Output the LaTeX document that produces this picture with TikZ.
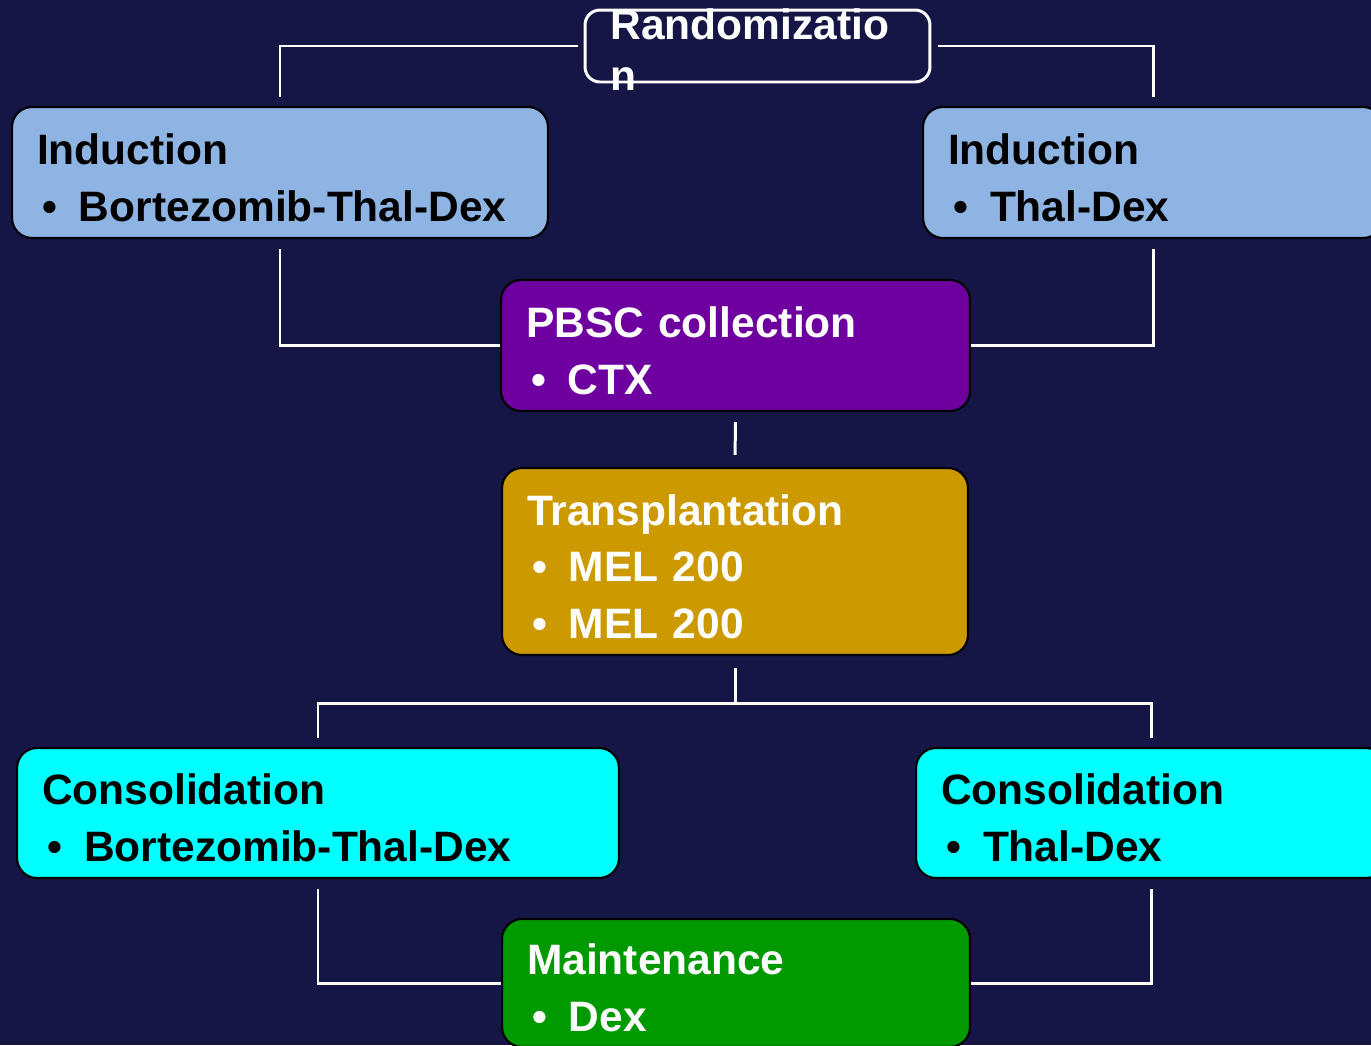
\documentclass[tikz,border=0pt]{standalone}
\usepackage{fontspec}
\setmainfont{Liberation Sans}
\usepackage{xcolor}
\usepackage{tikz}

\definecolor{navybg}{HTML}{151646}
\definecolor{indblue}{HTML}{8EB4E3}
\definecolor{pbscpurple}{HTML}{6E00A0}
\definecolor{transgold}{HTML}{CC9900}
\definecolor{conscyan}{HTML}{00FFFF}
\definecolor{maintgreen}{HTML}{009900}

\newcommand{\hd}{\rule{0pt}{0.82cm}}
\newcommand{\bul}{\makebox[0.84cm][l]{\hspace{0.1cm}\textbullet}}

\begin{document}
\begin{tikzpicture}[
    x=0.02cm, y=-0.02cm,
    stage/.style={rectangle, rounded corners=0.4cm, draw=black, line width=1.2pt, inner xsep=0.5cm, inner ysep=0pt, align=left, font=\fontsize{24.2}{32.3}\selectfont\bfseries},
    randbox/.style={rectangle, rounded corners=0.3cm, draw=white, line width=1.7pt, minimum width=6.9cm, minimum height=1.44cm, inner sep=0pt},
    randlabel/.style={text=white, inner sep=0pt, align=left, font=\fontsize{24.2}{29.5}\selectfont\bfseries},
    link/.style={draw=white, line width=1.7pt}
]

\useasboundingbox (0,0) rectangle (1371,1045);
\fill[navybg] (0,0) rectangle (1371,1045);

\node[randbox] (rand) at (757.5,46) {};
\node[randlabel, anchor=north west] (randtxt) at (610,8) {Randomizatio\\n};

\node[stage, fill=indblue, text width=9.72cm, minimum height=2.62cm] (indL) at (280,172.5) {\hd Induction\\\bul Bortezomib-Thal-Dex};
\node[stage, fill=indblue, text width=8.2cm, minimum height=2.62cm] (indR) at (1153,172.5) {\hd Induction\\\bul Thal-Dex};

\node[stage, fill=pbscpurple, text=white, text width=8.38cm, minimum height=2.62cm] (pbsc) at (735.5,345.5) {\hd PBSC collection\\\bul CTX};

\node[stage, fill=transgold, text=white, text width=8.32cm, minimum height=3.74cm] (trans) at (735,561.5) {\hd Transplantation\\\bul MEL 200\\\bul MEL 200};

\node[stage, fill=conscyan, text width=11.04cm, minimum height=2.6cm] (consL) at (318,813) {\hd Consolidation\\\bul Bortezomib-Thal-Dex};
\node[stage, fill=conscyan, text width=8.4cm, minimum height=2.6cm] (consR) at (1151,813) {\hd Consolidation\\\bul Thal-Dex};

\node[stage, fill=maintgreen, text=white, text width=8.36cm, minimum height=2.56cm] (maint) at (736,983) {\hd Maintenance\\\bul Dex};

\coordinate (split) at (735,703);

% randomization to both arms
\draw[link, shorten <=0.12cm, shorten >=0.18cm] (rand.west) -| (indL.north);
\draw[link, shorten <=0.14cm, shorten >=0.18cm] (rand.east) -| (indR.north);

% induction to stem cell collection
\draw[link, shorten <=0.2cm] (indL.south) |- (pbsc.west);
\draw[link, shorten <=0.2cm] (indR.south) |- (pbsc.east);

\draw[link, shorten <=0.2cm, shorten >=0.24cm] (pbsc.south) -- (trans.north);

% transplantation to consolidation
\draw[link, shorten <=0.24cm] (trans.south) -- (split);
\draw[link, shorten <=0.18cm, shorten >=0.18cm] (consL.north) |- (split) -| (consR.north);

% consolidation to maintenance
\draw[link, shorten <=0.2cm] (consL.south) |- (maint.west);
\draw[link, shorten <=0.2cm] (consR.south) |- (maint.east);

\end{tikzpicture}
\end{document}
